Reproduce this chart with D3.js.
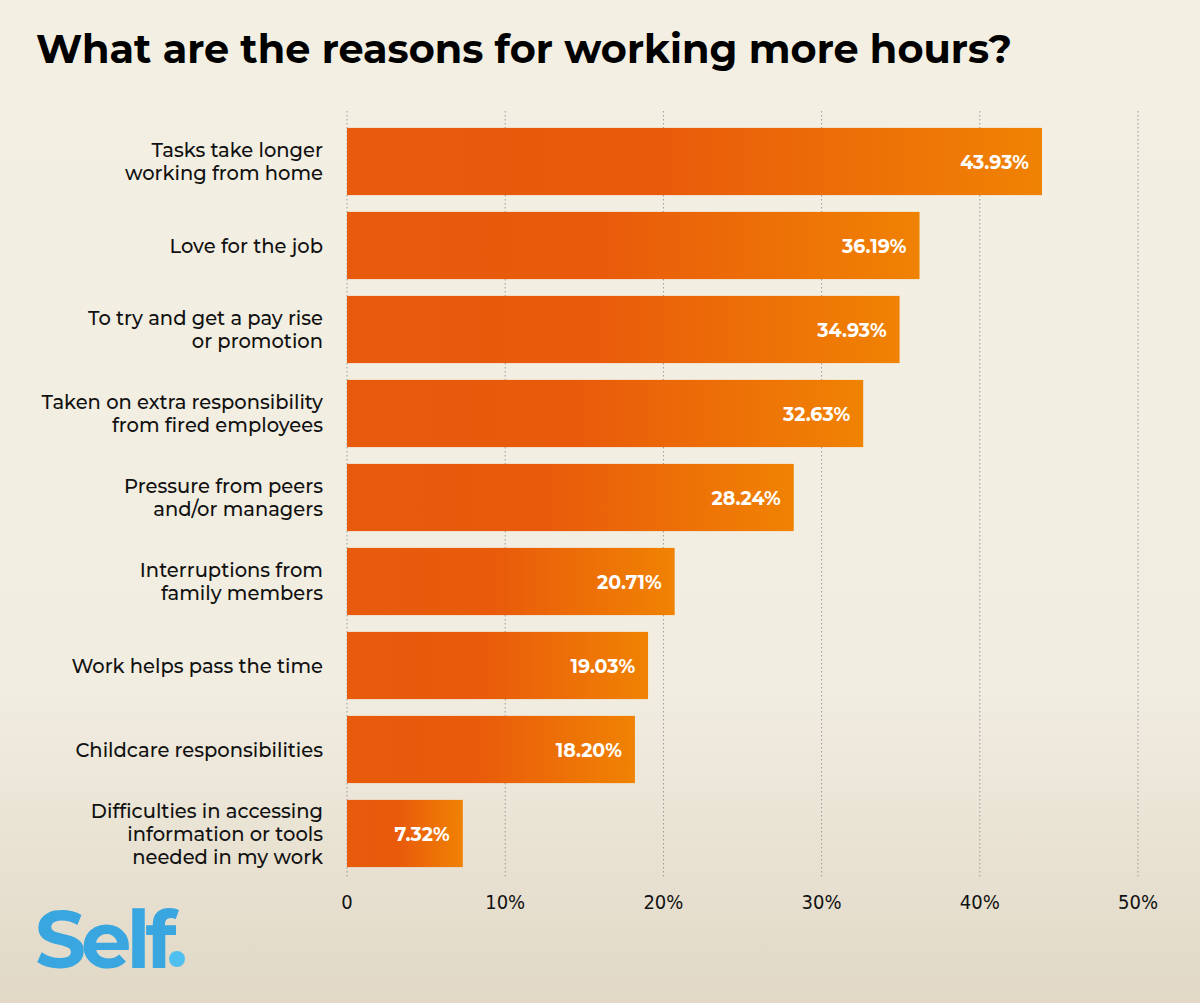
<!DOCTYPE html>
<html>
<head>
<meta charset="utf-8">
<script src="https://cdn.jsdelivr.net/npm/d3@7"></script>
<style>
  body { margin: 0; }
  svg { display: block; }
</style>
</head>
<body>
<svg id="chart" width="1200" height="1003"></svg>
<script>
// data
var categories = [
  ["Tasks take longer", "working from home"],
  ["Love for the job"],
  ["To try and get a pay rise", "or promotion"],
  ["Taken on extra responsibility", "from fired employees"],
  ["Pressure from peers", "and/or managers"],
  ["Interruptions from", "family members"],
  ["Work helps pass the time"],
  ["Childcare responsibilities"],
  ["Difficulties in accessing", "information or tools", "needed in my work"]
];
var values = [43.93, 36.19, 34.93, 32.63, 28.24, 20.71, 19.03, 18.20, 7.32];
var tickValues = [0, 10, 20, 30, 40, 50];

var svg = d3.select("#chart");
var W = 1200, H = 1003;
var font = "Montserrat, Lato, 'Open Sans', sans-serif";

var defs = svg.append("defs");
var bg = defs.append("linearGradient").attr("id", "bg")
  .attr("x1", 0).attr("y1", 0).attr("x2", 0).attr("y2", 1);
bg.append("stop").attr("offset", "0").attr("stop-color", "#f3efe3");
bg.append("stop").attr("offset", "0.68").attr("stop-color", "#f1ede1");
bg.append("stop").attr("offset", "1").attr("stop-color", "#e1d8c6");

var barGrad = defs.append("linearGradient").attr("id", "bar")
  .attr("x1", 0).attr("y1", 0).attr("x2", 1).attr("y2", 0);
barGrad.append("stop").attr("offset", "0").attr("stop-color", "#e85a0c");
barGrad.append("stop").attr("offset", "0.45").attr("stop-color", "#e95b0b");
barGrad.append("stop").attr("offset", "1").attr("stop-color", "#f08203");

svg.append("rect").attr("width", W).attr("height", H).attr("fill", "url(#bg)");

svg.append("text")
  .attr("x", 36).attr("y", 63)
  .attr("font-family", font)
  .attr("font-weight", 700)
  .attr("font-size", 40)
  .attr("textLength", 976)
  .attr("lengthAdjust", "spacingAndGlyphs")
  .attr("fill", "#000")
  .text("What are the reasons for working more hours?");

var x = d3.scaleLinear().domain([0, 50]).range([347, 1138]);
var y = d3.scaleBand().domain(d3.range(values.length))
  .range([128 - 8.5, 867 + 8.5]).paddingInner(0.2).paddingOuter(0.1);

// dotted gridlines
svg.append("g").selectAll("line").data(tickValues).join("line")
  .attr("x1", d => x(d)).attr("x2", d => x(d))
  .attr("y1", 111).attr("y2", 877)
  .attr("stroke", "#9a9a9a")
  .attr("stroke-width", 1)
  .attr("stroke-dasharray", "1.5,2.5");

// axis labels
svg.append("g").selectAll("text").data(tickValues).join("text")
  .attr("x", d => x(d)).attr("y", 909)
  .attr("text-anchor", "middle")
  .attr("font-family", "'Liberation Sans Narrow', 'DejaVu Sans Condensed', sans-serif")
  .attr("font-size", 20)
  .attr("fill", "#111")
  .text(d => d === 0 ? "0" : d + "%");

// bars
svg.append("g").selectAll("rect").data(values).join("rect")
  .attr("x", x(0))
  .attr("y", (d, i) => y(i))
  .attr("width", d => x(d) - x(0))
  .attr("height", y.bandwidth())
  .attr("fill", "url(#bar)");

// value labels
svg.append("g").selectAll("text").data(values).join("text")
  .attr("x", d => x(d) - 13)
  .attr("y", (d, i) => y(i) + y.bandwidth() / 2 + 7)
  .attr("text-anchor", "end")
  .attr("font-family", font)
  .attr("font-weight", 700)
  .attr("font-size", 19)
  .attr("fill", "#fff")
  .text(d => d.toFixed(2) + "%");

// category labels
var lab = svg.append("g").selectAll("text").data(categories).join("text")
  .attr("text-anchor", "end")
  .attr("font-family", font)
  .attr("font-weight", 500)
  .attr("font-size", 19.5)
  .attr("fill", "#111");
lab.each(function(lines, i) {
  var cy = y(i) + y.bandwidth() / 2;
  var lh = 23;
  var top = cy - (lines.length - 1) * lh / 2 + 7;
  d3.select(this).selectAll("tspan").data(lines).join("tspan")
    .attr("x", 323)
    .attr("y", (d, k) => top + k * lh)
    .text(d => d);
});

// logo
svg.append("text")
  .attr("x", 35).attr("y", 968)
  .attr("font-family", "Montserrat, 'Noto Sans', sans-serif")
  .attr("font-weight", 700)
  .attr("font-size", 80)
  .attr("letter-spacing", -5)
  .attr("fill", "#3aa6df")
  .text("Self");
svg.append("circle").attr("cx", 177).attr("cy", 959).attr("r", 8).attr("fill", "#4fbff0");
</script>
</body>
</html>
